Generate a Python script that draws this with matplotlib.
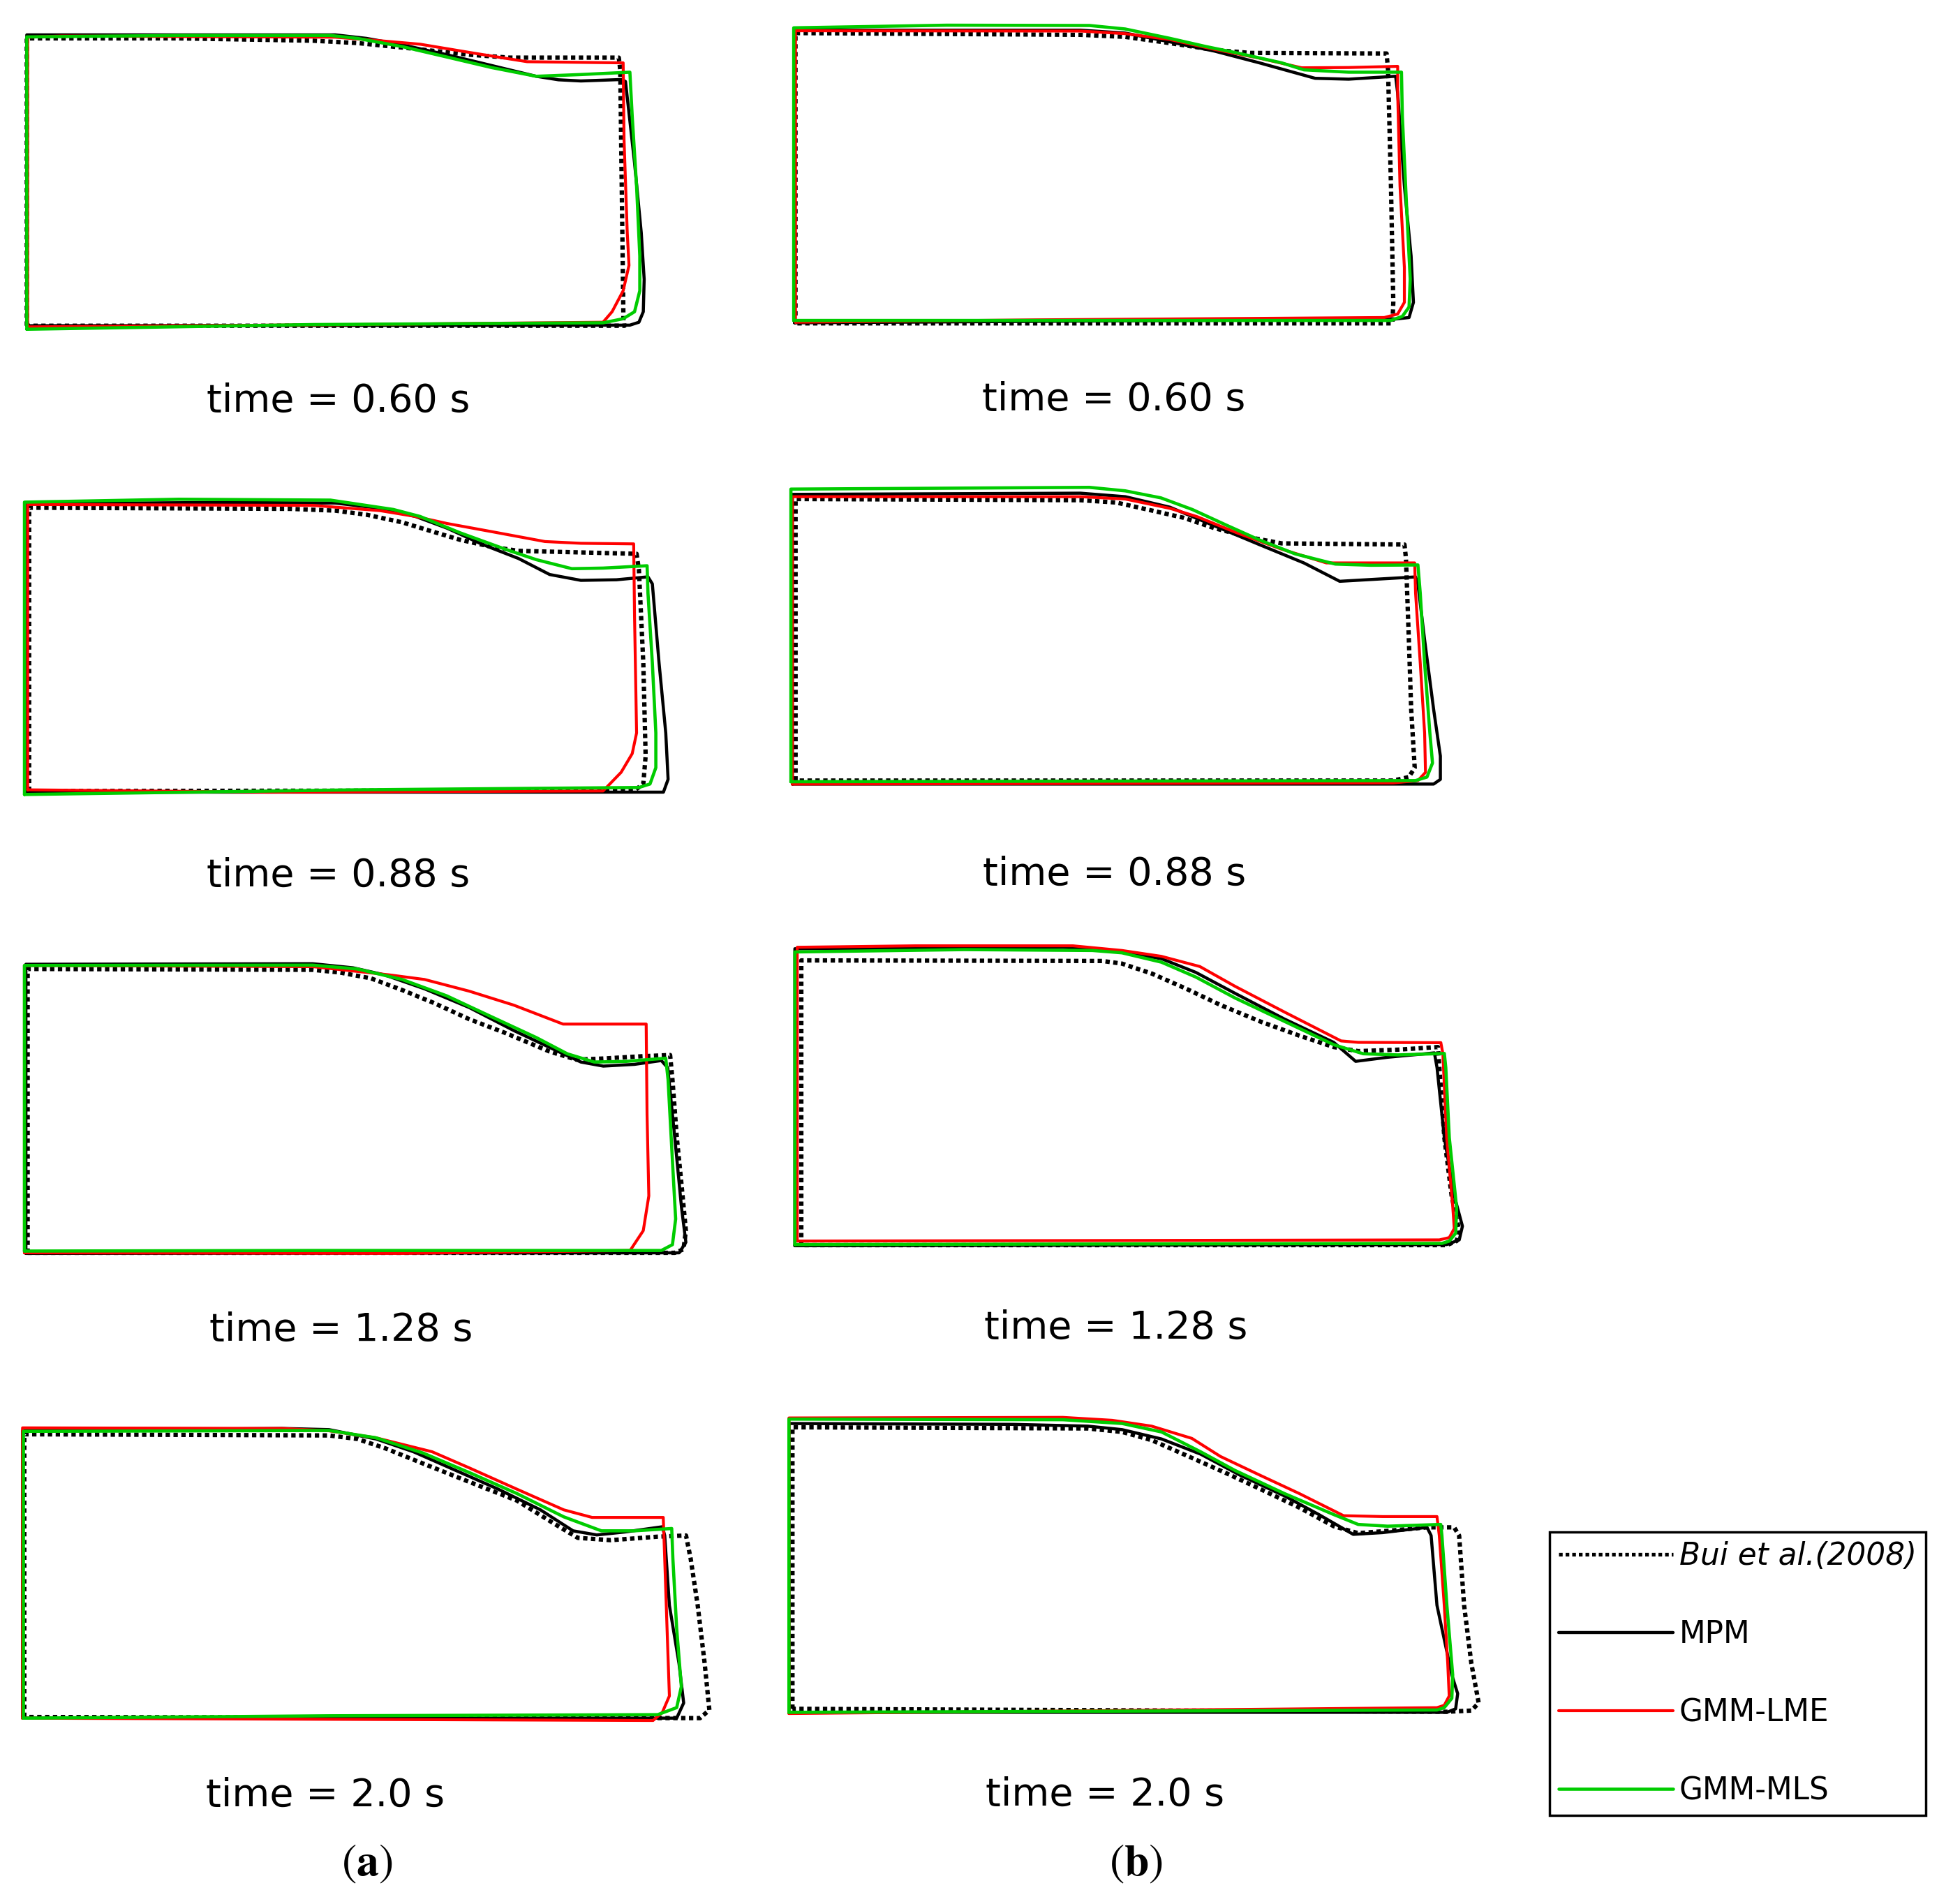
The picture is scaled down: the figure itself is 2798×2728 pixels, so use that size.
import matplotlib
matplotlib.use("Agg")
import matplotlib.pyplot as plt

# ---------------- data: free-surface outlines (units: cm) ----------------
# Column (a), t = 0.60 s
A1_BUI = [(0, 0), (0, 9.85), (5.21, 9.85), (9.80, 9.77), (11.33, 9.69), (13.32, 9.49), (15.16, 9.29),
          (16.54, 9.19), (20.29, 9.19), (20.34, 8.77), (20.45, 0.16), (20.49, 0), (0, 0)]
A1_MPM = [(0, 0), (0, 9.97), (10.57, 9.97), (11.64, 9.85), (12.86, 9.63), (14.4, 9.29), (15.93, 8.92),
          (17.46, 8.55), (18.22, 8.43), (18.99, 8.39), (20.4, 8.44), (20.52, 8.37), (20.83, 5.58),
          (21.06, 3.19), (21.16, 1.59), (21.13, 0.48), (20.98, 0.12), (20.67, 0.02), (0, 0)]
A1_LME = [(0.03, -0.04), (0.03, 9.89), (1.19, 9.93), (10.57, 9.89), (12.1, 9.77), (13.48, 9.65),
          (15.16, 9.37), (16.39, 9.17), (17.15, 9.05), (20.44, 9.01), (20.47, 6.38), (20.58, 3.19),
          (20.64, 2.07), (20.44, 1.2), (20.06, 0.48), (19.75, 0.12), (11.33, 0.04), (0.03, -0.04)]
A1_MLS = [(0, -0.12), (0, 9.9), (5.21, 9.95), (10.41, 9.95), (11.33, 9.85), (12.86, 9.57), (14.4, 9.21),
          (15.93, 8.85), (17.46, 8.55), (18.99, 8.61), (20.67, 8.69), (20.75, 7.18), (20.9, 4.78),
          (21.01, 2.39), (21.01, 1.2), (20.83, 0.48), (20.44, 0.24), (19.75, 0.1), (9.8, 0.04), (0, -0.12)]

# Column (a), t = 0.88 s
A2_BUI = [(0.08, 0), (0.08, 9.71), (9.04, 9.67), (10.57, 9.61), (11.64, 9.47), (12.86, 9.21), (13.78, 8.93),
          (14.85, 8.61), (15.93, 8.37), (16.85, 8.23), (20.9, 8.13), (20.98, 7.58), (21.13, 4.39),
          (21.21, 1.2), (21.13, 0.24), (20.83, 0.02), (0.08, 0)]
A2_MPM = [(0, -0.04), (0, 9.85), (6.74, 9.89), (10.57, 9.87), (12.1, 9.69), (13.32, 9.41), (14.4, 9.01),
          (15.62, 8.45), (16.85, 7.97), (17.92, 7.42), (18.99, 7.22), (20.21, 7.24), (21.29, 7.34),
          (21.44, 7.1), (21.67, 4.39), (21.9, 1.99), (21.98, 0.4), (21.82, -0.04), (0, -0.04)]
A2_LME = [(0.03, 0.04), (0.03, 9.82), (9.8, 9.79), (12.1, 9.61), (13.32, 9.41), (14.4, 9.17), (15.93, 8.89),
          (17.76, 8.55), (18.99, 8.49), (20.8, 8.47), (20.83, 5.98), (20.9, 1.99), (20.75, 1.28),
          (20.37, 0.64), (19.75, 0), (8.27, -0.04), (0.03, 0.04)]
A2_MLS = [(-0.08, -0.12), (-0.08, 9.9), (5.21, 10.0), (10.41, 9.97), (12.56, 9.65), (13.48, 9.41),
          (14.85, 8.85), (16.39, 8.29), (17.46, 7.93), (18.68, 7.62), (19.75, 7.64), (21.26, 7.72),
          (21.29, 6.78), (21.44, 4.39), (21.56, 1.99), (21.56, 0.8), (21.36, 0.24), (20.98, 0.12),
          (11.33, 0.04), (-0.08, -0.12)]

# Column (a), t = 1.28 s
A3_BUI = [(0.06, 0), (0.06, 9.73), (9.83, 9.7), (10.75, 9.61), (11.82, 9.41), (12.89, 9.01), (13.97, 8.57),
          (15.19, 8.01), (16.42, 7.54), (17.95, 6.9), (18.87, 6.62), (19.79, 6.66), (21.16, 6.74),
          (22.08, 6.78), (22.16, 5.94), (22.31, 3.95), (22.47, 2.35), (22.62, 0.76), (22.54, 0.12),
          (22.24, 0), (0.06, 0)]
A3_MPM = [(0, -0.02), (0, 9.89), (9.83, 9.91), (11.21, 9.77), (12.28, 9.53), (13.66, 9.05), (15.19, 8.41),
          (16.72, 7.62), (18.25, 6.9), (19.02, 6.54), (19.79, 6.4), (20.86, 6.46), (21.78, 6.59),
          (22.0, 6.34), (22.24, 3.95), (22.47, 1.56), (22.62, 0.36), (22.39, 0), (0, -0.02)]
A3_LME = [(-0.05, 0), (-0.05, 9.85), (9.83, 9.81), (12.43, 9.53), (13.66, 9.37), (15.19, 8.97),
          (16.72, 8.49), (18.41, 7.84), (19.79, 7.84), (21.26, 7.84), (21.29, 4.74), (21.35, 1.95),
          (21.16, 0.76), (20.71, 0.08), (12.89, -0.02), (-0.05, 0)]
A3_MLS = [(-0.05, 0.06), (-0.05, 9.85), (9.83, 9.86), (11.36, 9.73), (12.89, 9.37), (14.42, 8.81),
          (15.96, 8.09), (17.49, 7.38), (18.56, 6.82), (19.48, 6.54), (20.55, 6.56), (21.93, 6.67),
          (22.01, 5.94), (22.16, 3.15), (22.27, 1.16), (22.16, 0.28), (21.78, 0.08), (9.83, 0.08),
          (-0.05, 0.06)]

# Column (a), t = 2.0 s
A4_BUI = [(0.06, 0.04), (0.06, 9.73), (10.5, 9.69), (11.47, 9.57), (12.43, 9.25), (13.72, 8.73),
          (15.33, 8.09), (16.94, 7.46), (18.23, 6.66), (19.03, 6.18), (20.16, 6.1), (21.77, 6.22),
          (22.74, 6.26), (22.9, 5.46), (23.14, 3.87), (23.38, 1.87), (23.54, 0.28), (23.22, 0), (0.06, 0.04)]
A4_MPM = [(0, 0), (0, 9.85), (8.89, 9.93), (10.5, 9.89), (12.11, 9.57), (13.4, 9.13), (14.85, 8.49),
          (16.3, 7.85), (17.75, 7.14), (18.87, 6.42), (19.68, 6.28), (20.64, 6.38), (21.93, 6.56),
          (22.01, 6.26), (22.17, 3.87), (22.5, 1.87), (22.66, 0.52), (22.42, 0), (0, 0)]
A4_LME = [(0, 0), (0, 9.95), (8.89, 9.93), (10.5, 9.85), (12.11, 9.61), (14.04, 9.13), (15.33, 8.57),
          (16.94, 7.85), (18.55, 7.14), (19.52, 6.88), (20.16, 6.88), (21.96, 6.88), (22.01, 5.46),
          (22.09, 3.07), (22.17, 0.76), (21.93, 0.2), (21.61, -0.08), (10.5, -0.04), (0, 0)]
A4_MLS = [(0.03, 0), (0.03, 9.83), (10.5, 9.86), (12.11, 9.61), (13.72, 9.09), (15.33, 8.41),
          (16.94, 7.7), (18.55, 6.9), (19.84, 6.42), (20.97, 6.42), (22.25, 6.5), (22.29, 5.46),
          (22.42, 3.07), (22.58, 1.08), (22.42, 0.36), (21.77, 0.12), (10.5, 0.08), (0.03, 0)]

# Column (b), t = 0.60 s
B1_BUI = [(0.03, 0), (0.03, 9.95), (9.8, 9.89), (11.33, 9.82), (12.56, 9.65), (13.63, 9.49), (14.4, 9.37),
          (15.62, 9.27), (20.29, 9.25), (20.34, 8.69), (20.44, 4.71), (20.52, 0.72), (20.49, 0), (0.03, 0)]
B1_MPM = [(0, 0.02), (0, 10.05), (9.8, 10.05), (11.33, 9.95), (12.86, 9.65), (14.4, 9.33), (15.93, 8.93),
          (17.84, 8.4), (18.99, 8.37), (20.6, 8.47), (20.67, 7.89), (20.9, 4.71), (21.13, 2.31),
          (21.21, 0.72), (21.06, 0.2), (20.52, 0.14), (0, 0.02)]
B1_LME = [(0.03, 0.04), (0.03, 10.03), (9.8, 10.02), (11.33, 9.93), (12.86, 9.73), (14.4, 9.39),
          (15.93, 9.09), (17.38, 8.76), (18.99, 8.77), (20.67, 8.81), (20.67, 7.89), (20.75, 4.71),
          (20.9, 1.91), (20.9, 0.72), (20.67, 0.32), (20.21, 0.2), (8.27, 0.12), (0.03, 0.04)]
B1_MLS = [(-0.03, 0.1), (-0.03, 10.13), (5.21, 10.22), (10.11, 10.21), (11.33, 10.09), (12.86, 9.77),
          (14.09, 9.49), (15.16, 9.27), (16.69, 8.93), (17.46, 8.69), (18.99, 8.61), (20.8, 8.61),
          (20.83, 7.1), (20.98, 3.91), (21.1, 1.52), (21.06, 0.56), (20.83, 0.24), (20.44, 0.1), (-0.03, 0.1)]

# Column (b), t = 0.88 s
B2_BUI = [(0.11, 0.08), (0.11, 9.73), (9.88, 9.69), (11.1, 9.61), (12.17, 9.37), (13.4, 9.09),
          (14.47, 8.73), (15.7, 8.41), (16.77, 8.21), (20.98, 8.17), (21.03, 7.7), (21.13, 4.9),
          (21.21, 2.51), (21.33, 0.52), (21.13, 0.2), (20.6, 0.08), (0.11, 0.08)]
B2_MPM = [(0, -0.04), (0, 9.89), (9.88, 9.93), (11.41, 9.81), (12.94, 9.45), (14.47, 8.81), (16.0, 8.17),
          (17.53, 7.54), (18.76, 6.91), (19.98, 6.98), (21.36, 7.06), (21.44, 6.82), (21.67, 4.9),
          (21.98, 2.51), (22.21, 0.92), (22.21, 0.12), (21.98, -0.04), (0, -0.04)]
B2_LME = [(0, -0.04), (0, 9.81), (9.88, 9.81), (11.41, 9.73), (12.94, 9.41), (13.86, 9.13), (15.24, 8.57),
          (16.77, 8.01), (18.3, 7.54), (19.83, 7.54), (21.33, 7.54), (21.36, 6.5), (21.52, 4.11),
          (21.67, 1.71), (21.7, 0.36), (21.44, 0.08), (20.6, 0), (0, -0.04)]
B2_MLS = [(-0.05, 0.04), (-0.05, 10.07), (10.18, 10.13), (11.41, 10.01), (12.63, 9.77), (13.71, 9.37),
          (14.93, 8.81), (16.0, 8.33), (17.23, 7.85), (18.61, 7.5), (19.83, 7.46), (21.44, 7.47),
          (21.52, 6.5), (21.67, 4.11), (21.85, 1.71), (21.94, 0.68), (21.75, 0.2), (21.36, 0.08),
          (-0.05, 0.04)]

# Column (b), t = 1.28 s
B3_BUI = [(0.22, 0), (0.22, 9.76), (10.54, 9.74), (11.21, 9.65), (12.23, 9.31), (13.41, 8.79),
          (14.59, 8.23), (15.94, 7.67), (17.29, 7.18), (18.47, 6.79), (19.31, 6.65), (20.66, 6.7),
          (22.04, 6.79), (22.09, 6.08), (22.26, 3.68), (22.51, 1.69), (22.77, 0.49), (22.68, 0.14),
          (22.34, 0), (0.22, 0)]
B3_MPM = [(0, -0.02), (0, 10.16), (9.19, 10.21), (10.88, 10.1), (12.56, 9.82), (13.74, 9.35),
          (15.09, 8.63), (16.78, 7.75), (18.47, 6.95), (19.22, 6.3), (20.32, 6.44), (21.92, 6.59),
          (22.01, 6.08), (22.26, 3.68), (22.6, 1.69), (22.88, 0.65), (22.77, 0.18), (22.34, 0.02), (0, -0.02)]
B3_LME = [(0.08, 0.14), (0.08, 10.21), (4.13, 10.26), (9.53, 10.26), (11.21, 10.1), (12.56, 9.9),
          (13.88, 9.55), (15.09, 8.87), (16.78, 7.99), (18.72, 7.0), (19.31, 6.95), (22.14, 6.94),
          (22.21, 6.56), (22.34, 3.68), (22.55, 1.29), (22.6, 0.57), (22.43, 0.26), (22.09, 0.18), (0.08, 0.14)]
B3_MLS = [(0, 0.02), (0, 10.05), (5.82, 10.13), (10.2, 10.1), (11.21, 10.02), (12.56, 9.7), (13.74, 9.19),
          (15.09, 8.47), (16.78, 7.67), (18.47, 6.87), (19.48, 6.56), (20.66, 6.52), (22.26, 6.57),
          (22.31, 6.08), (22.43, 3.68), (22.68, 1.29), (22.65, 0.41), (22.43, 0.14), (22.18, 0.06), (0, 0.02)]

# Column (b), t = 2.0 s
B4_BUI = [(0.12, 0.08), (0.12, 9.73), (10.24, 9.69), (11.42, 9.57), (12.43, 9.29), (13.61, 8.77),
          (14.96, 8.17), (16.14, 7.62), (17.49, 6.98), (18.67, 6.34), (19.51, 6.1), (20.52, 6.18),
          (21.87, 6.3), (22.8, 6.3), (22.97, 6.02), (23.14, 3.63), (23.39, 1.63), (23.64, 0.28),
          (23.39, 0.02), (22.55, -0.02), (0.12, 0.08)]
B4_MPM = [(0, -0.04), (0, 9.86), (7.71, 9.83), (10.24, 9.77), (11.42, 9.65), (12.77, 9.33), (14.11, 8.81),
          (15.46, 8.09), (16.98, 7.38), (18.16, 6.74), (19.34, 6.06), (20.35, 6.12), (21.87, 6.3),
          (22.01, 6.02), (22.21, 3.63), (22.72, 1.24), (22.92, 0.6), (22.85, 0.08), (22.55, -0.04), (0, -0.04)]
B4_LME = [(0, -0.08), (0, 10.05), (9.39, 10.07), (11.08, 9.97), (12.43, 9.77), (13.81, 9.35),
          (14.79, 8.73), (16.14, 8.09), (17.49, 7.46), (19.01, 6.7), (20.35, 6.67), (22.21, 6.67),
          (22.29, 6.02), (22.46, 3.63), (22.58, 1.63), (22.63, 0.52), (22.46, 0.2), (22.21, 0.12), (0, -0.08)]
B4_MLS = [(0, -0.04), (0, 10.01), (9.39, 9.99), (11.42, 9.86), (12.77, 9.57), (14.11, 8.89),
          (15.29, 8.25), (16.98, 7.46), (18.67, 6.74), (19.51, 6.4), (20.52, 6.34), (22.34, 6.4),
          (22.38, 6.02), (22.55, 3.63), (22.75, 1.24), (22.72, 0.44), (22.46, 0.12), (22.21, 0.04), (0, -0.04)]

TIME_LABELS = ["time = 0.60 s", "time = 0.88 s", "time = 1.28 s", "time = 2.0 s"]
SERIES_NAMES = ["Bui et al.(2008)", "MPM", "GMM-LME", "GMM-MLS"]
PANEL_LABELS = ["a", "b"]

PANELS = {
    "A1": [A1_BUI, A1_MPM, A1_LME, A1_MLS], "A2": [A2_BUI, A2_MPM, A2_LME, A2_MLS],
    "A3": [A3_BUI, A3_MPM, A3_LME, A3_MLS], "A4": [A4_BUI, A4_MPM, A4_LME, A4_MLS],
    "B1": [B1_BUI, B1_MPM, B1_LME, B1_MLS], "B2": [B2_BUI, B2_MPM, B2_LME, B2_MLS],
    "B3": [B3_BUI, B3_MPM, B3_LME, B3_MLS], "B4": [B4_BUI, B4_MPM, B4_LME, B4_MLS],
}

# ---------------- layout (pixels of the 2798 x 2728 canvas) ----------------
W, H = 2798, 2728
K = 41.8  # pixels per cm
ORIGINS = {"A1": (38.4, 466.7), "A2": (38.4, 1133.3), "A3": (37.1, 1795.0), "A4": (32.3, 2461.7),
           "B1": (1138.4, 463.3), "B2": (1135.2, 1121.7), "B3": (1138.8, 1784.0), "B4": (1130.3, 2451.7)}
TEXT_POS = {"A1": (485, 590), "A2": (485, 1270), "A3": (489, 1921), "A4": (466, 2588),
            "B1": (1596, 588), "B2": (1597, 1268), "B3": (1599, 1918), "B4": (1583, 2587)}
STYLES = [dict(color="black", lw=4.5, ls=(0, (1.0, 0.8)), zorder=2),
          dict(color="black", lw=3.2, ls="-", zorder=3),
          dict(color="#ff0000", lw=3.0, ls="-", zorder=4),
          dict(color="#00cc00", lw=3.3, ls="-", zorder=5)]

UMIN, UMAX, VMIN, VMAX = -1.0, 25.0, -1.0, 11.5

fig = plt.figure(figsize=(W / 100, H / 100), dpi=100)
plt.rcParams["mathtext.fontset"] = "stix"

handles = None
for key, series in PANELS.items():
    x0, y0 = ORIGINS[key]
    left = x0 + UMIN * K
    bottom = y0 - VMIN * K  # pixel from top
    width = (UMAX - UMIN) * K
    height = (VMAX - VMIN) * K
    ax = fig.add_axes([left / W, 1 - bottom / H, width / W, height / H])
    ax.set_xlim(UMIN, UMAX)
    ax.set_ylim(VMIN, VMAX)
    ax.axis("off")
    hs = []
    for pts, st, name in zip(series, STYLES, SERIES_NAMES):
        xs = [p[0] for p in pts]
        ys = [p[1] for p in pts]
        (ln,) = ax.plot(xs, ys, label=name, solid_joinstyle="round", solid_capstyle="round", **st)
        hs.append(ln)
    if handles is None:
        handles = hs
    row = int(key[1]) - 1
    tx, ty = TEXT_POS[key]
    fig.text(tx / W, 1 - ty / H, TIME_LABELS[row], ha="center", va="baseline", fontsize=40,
             family="DejaVu Sans")

fig.text(526 / W, 1 - 2670 / H, r"$(\mathbf{%s})$" % PANEL_LABELS[0], ha="center", va="center", fontsize=46)
fig.text(1628 / W, 1 - 2670 / H, r"$(\mathbf{%s})$" % PANEL_LABELS[1], ha="center", va="center", fontsize=46)

leg = fig.legend(handles, SERIES_NAMES, loc="upper left", bbox_to_anchor=(2220 / W, 1 - 2195 / H),
                 bbox_transform=fig.transFigure, fontsize=31.5, frameon=True, fancybox=False,
                 edgecolor="black", framealpha=1, borderpad=0.3, borderaxespad=0,
                 handlelength=3.75, handletextpad=0.2, labelspacing=1.58)
leg.get_frame().set_linewidth(2.5)
leg.get_texts()[0].set_style("italic")
for lh in leg.get_lines():
    if lh.get_linestyle() != "-":
        lh.set_linewidth(3.8)

fig.savefig("out.png", dpi=100)
